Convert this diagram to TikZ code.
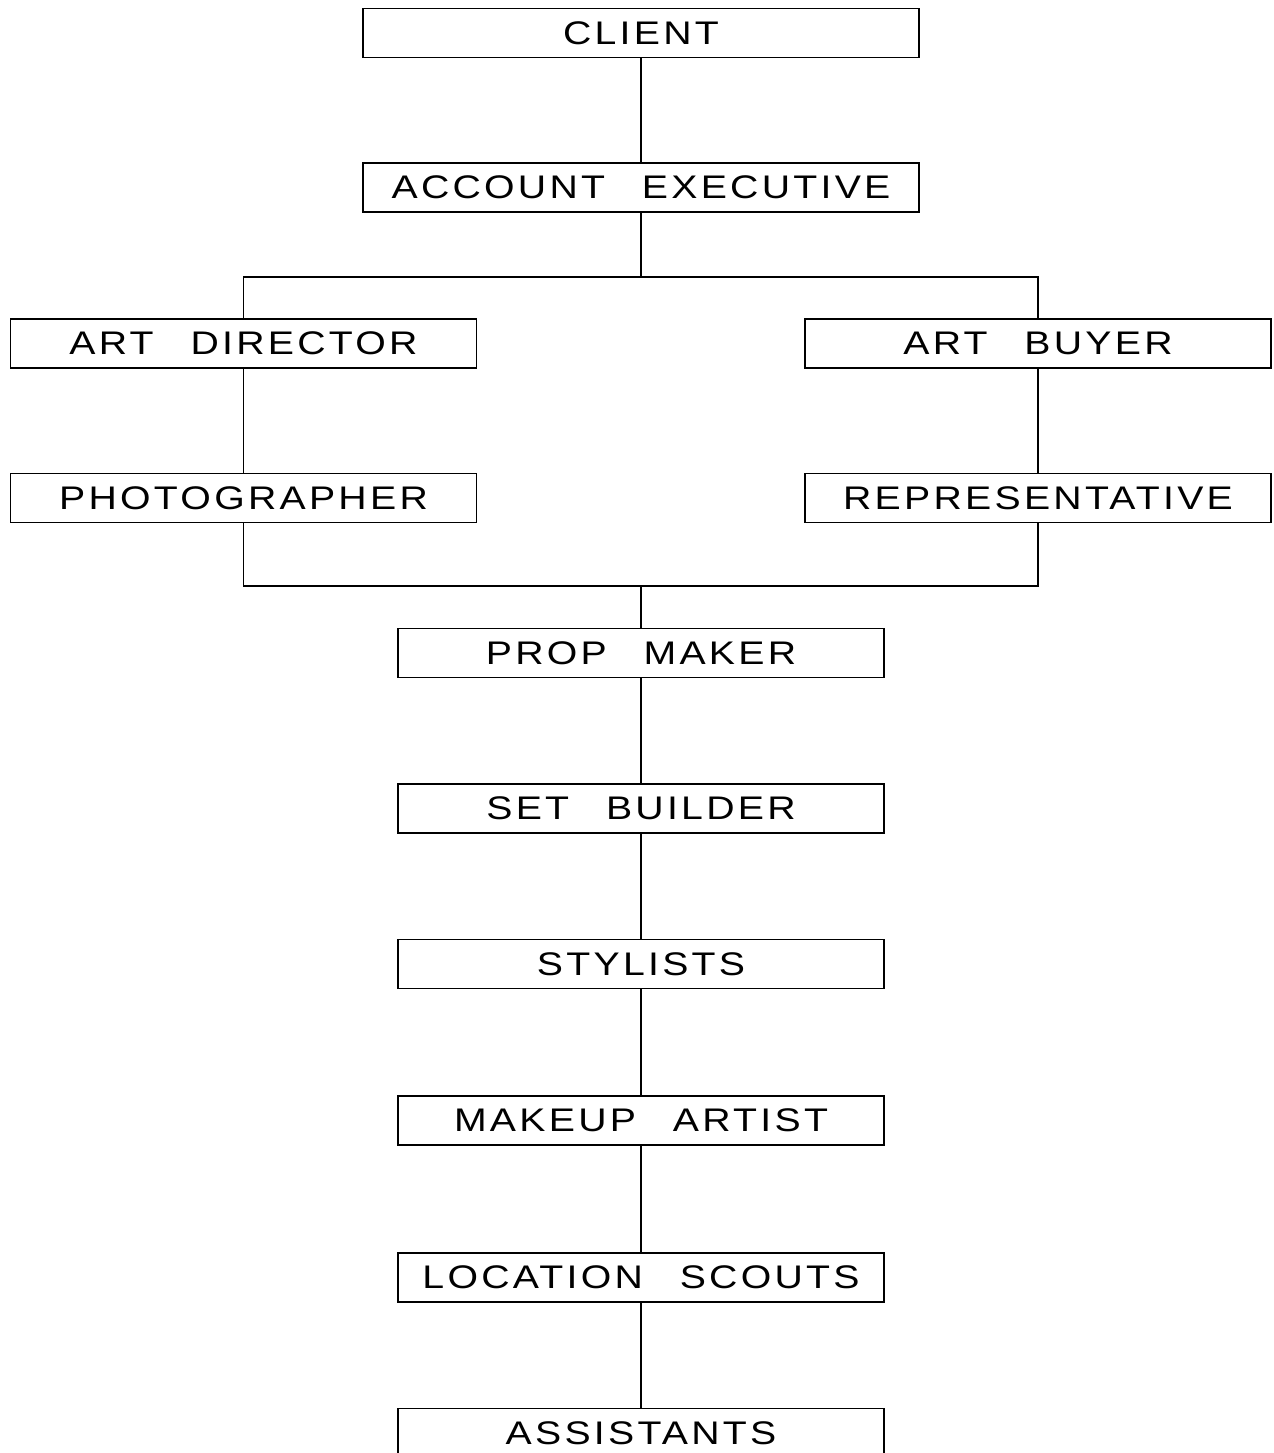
\documentclass[tikz,border=0pt]{standalone}
\usepackage{fontspec}
\setmainfont{Liberation Sans}[FakeStretch=1.2,LetterSpace=10,WordSpace=2.6]
\usetikzlibrary{positioning}

\begin{document}
\begin{tikzpicture}[
    box/.style  = {draw, line width=0.5pt, inner sep=0pt,
                   minimum height=4.9mm, font=\fontsize{9.3}{10}\selectfont},
    wide/.style = {box, minimum width=55.6mm},
    side/.style = {box, minimum width=46.6mm},
    mid/.style  = {box, minimum width=48.6mm},
    link/.style = {line width=0.5pt}
  ]
  \useasboundingbox (0,0) rectangle (12.74,-14.53);

  % top of the chain
  \node[wide] (CL) at (6.41,-0.33)  {CLIENT};
  \node[wide] (AE) at (6.41,-1.875) {ACCOUNT EXECUTIVE};

  % the two branches
  \node[side] (AD) at (2.435,-3.435) {ART DIRECTOR};
  \node[side] (PH) at (2.435,-4.98)  {PHOTOGRAPHER};
  \node[side] (AB) at (10.38,-3.435) {ART BUYER};
  \node[side] (RP) at (10.38,-4.98)  {REPRESENTATIVE};

  % the crew below
  \node[mid] (PM) at (6.41,-6.53)   {PROP MAKER};
  \node[mid] (SB) at (6.41,-8.085)  {SET BUILDER};
  \node[mid] (ST) at (6.41,-9.64)   {STYLISTS};
  \node[mid] (MA) at (6.41,-11.205) {MAKEUP ARTIST};
  \node[mid] (LS) at (6.41,-12.775) {LOCATION SCOUTS};
  \node[mid] (AS) at (6.41,-14.33)  {ASSISTANTS};

  \coordinate (split) at (6.41,-2.77);
  \coordinate (join)  at (6.41,-5.86);

  %–––– connectors ––––
  \draw[link] (CL) -- (AE);
  \draw[link] (AE) -- (split);
  \draw[link] (AD) |- (split) -| (AB);
  \draw[link] (AD) -- (PH);
  \draw[link] (AB) -- (RP);
  \draw[link] (PH) |- (join) -| (RP);
  \draw[link] (join) -- (PM);
  \draw[link] (PM) -- (SB);
  \draw[link] (SB) -- (ST);
  \draw[link] (ST) -- (MA);
  \draw[link] (MA) -- (LS);
  \draw[link] (LS) -- (AS);

\end{tikzpicture}
\end{document}
